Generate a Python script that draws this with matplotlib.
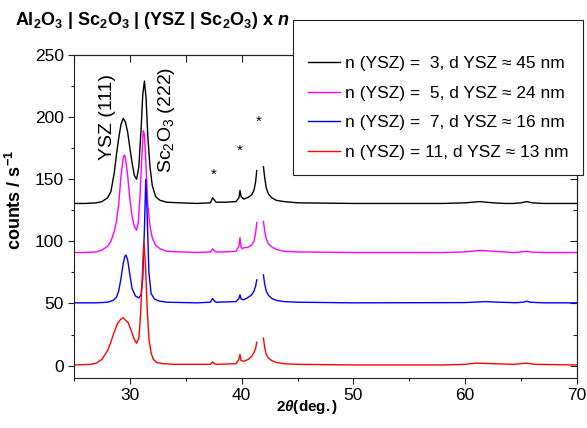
import numpy as np
import matplotlib
matplotlib.use("Agg")
import matplotlib.pyplot as plt
from matplotlib.ticker import MultipleLocator

plt.rcParams['font.family'] = ['Liberation Sans', 'DejaVu Sans']
plt.rcParams['mathtext.fontset'] = 'custom'
plt.rcParams['mathtext.rm'] = 'Liberation Sans'
plt.rcParams['mathtext.sf'] = 'Liberation Sans'
plt.rcParams['mathtext.it'] = 'Liberation Sans:italic'
plt.rcParams['mathtext.bf'] = 'Liberation Sans:bold'
plt.rcParams['mathtext.bfit'] = 'Liberation Sans:bold:italic'

nan = np.nan

# ---- data (2theta in degrees, counts/s including vertical offsets) ----
x_n3 = [25, 26, 27, 27.5, 28, 28.3, 28.6, 28.8, 29.0, 29.2, 29.4, 29.6, 29.8, 30.0, 30.2, 30.4, 30.6,
        30.8, 31.0, 31.15, 31.3, 31.45, 31.6, 31.8, 32.0, 32.3, 32.7, 33.3, 34.5, 36, 37.2, 37.4, 37.5,
        37.7, 38.5, 39.5, 39.75, 39.85, 39.95, 40.2, 40.6, 40.9, 41.1, 41.25, 41.35, 41.6, 41.95, 42.05,
        42.2, 42.4, 42.7, 43.1, 43.8, 45, 50, 55, 58, 60, 61.3, 62.5, 63.5, 64.3, 65.0, 65.5, 66.0, 67, 70]
y_n3 = [130.5, 130.5, 131, 132, 135, 140, 155, 170, 183, 194, 199, 196, 188, 175, 163, 153, 150,
        160, 190, 218, 229, 215, 185, 160, 145, 136, 133, 131.5, 131, 130.5, 131, 135, 134,
        131.5, 131.5, 132, 135, 141, 136, 134, 135.5, 137.5, 141, 148, 157, nan, 160, 152,
        143, 138, 135, 133, 132, 131, 130.5, 130.5, 130.5, 131, 132, 131, 130.5, 130.5, 131, 132, 131, 130.5, 130.5]

x_n5 = [25, 26, 27, 27.5, 28, 28.3, 28.6, 28.8, 29.0, 29.2, 29.4, 29.5, 29.6, 29.8, 30.0, 30.2, 30.4,
        30.6, 30.75, 30.9, 31.05, 31.2, 31.3, 31.45, 31.6, 31.8, 32.0, 32.3, 32.7, 33.3, 34.5, 36, 37.2,
        37.4, 37.5, 37.7, 38.5, 39.5, 39.75, 39.85, 39.95, 40.1, 40.2, 40.5, 40.9, 41.1, 41.25, 41.35, 41.6,
        41.95, 42.05, 42.2, 42.4, 42.7, 43.1, 43.8, 45, 50, 58, 60, 61.3, 62.5, 63.5, 64.3, 65, 65.5, 66, 67, 70]
y_n5 = [91, 91, 91.5, 93, 96, 100, 108, 116, 130, 152, 167, 169.5, 167, 153, 134, 120, 112,
        109, 115, 135, 165, 189, 186, 160, 130, 112, 103, 97, 94, 92, 91.5, 91, 91.5,
        94, 93, 91.5, 91.5, 92, 96, 103, 95, 94, 95, 95, 97, 100, 107, 115, nan,
        116, 109, 102, 98, 95.5, 93.5, 92, 91.5, 91, 91, 91.5, 92.7, 92, 91.5, 91, 91.5, 92, 91.3, 91, 91]

x_n7 = [25, 27, 28, 28.5, 28.8, 29.0, 29.2, 29.4, 29.55, 29.65, 29.8, 30.0, 30.2, 30.5, 30.8, 31.0,
        31.15, 31.3, 31.42, 31.55, 31.7, 31.9, 32.2, 32.6, 33.3, 36, 37.2, 37.4, 37.5, 37.7, 39.5, 39.75,
        39.85, 39.95, 40.2, 40.6, 40.9, 41.1, 41.25, 41.35, 41.6, 41.95, 42.05, 42.2, 42.4, 42.7, 43.1,
        43.8, 45, 50, 60, 61.8, 63, 64.5, 65.2, 65.5, 65.8, 67, 70]
y_n7 = [50.5, 50.5, 51, 52.5, 55, 60, 70, 82, 88, 89, 85, 73, 62, 56, 54.5, 57,
        70, 110, 150, 120, 75, 58, 53.5, 52, 51, 50.5, 51, 54, 52.5, 51, 51.5, 54,
        57, 53.5, 53, 55, 57, 60, 64, 69, nan, 73, 66, 60, 56.5, 54, 52.5,
        51.5, 51, 50.5, 50.7, 51.5, 51, 50.6, 51, 51.8, 51, 50.5, 50.5]

x_n11 = [25, 26.5, 27.0, 27.5, 28.0, 28.3, 28.6, 28.9, 29.2, 29.4, 29.6, 29.85, 30.0, 30.2, 30.4, 30.6,
         30.8, 30.95, 31.1, 31.25, 31.4, 31.55, 31.7, 31.9, 32.1, 32.4, 33, 34, 37.2, 37.4, 37.5, 37.7,
         39.5, 39.75, 39.85, 39.95, 40.2, 40.6, 40.9, 41.1, 41.25, 41.35, 41.6, 41.95, 42.05, 42.2, 42.4,
         42.7, 43.1, 43.8, 45, 50, 58, 60, 61, 62.5, 64.3, 65.5, 66.2, 70]
y_n11 = [0.5, 1, 2, 5, 12, 19, 27, 34, 37.5, 38.5, 36.5, 34.5, 31, 26, 21, 18,
         22, 40, 70, 100, 80, 45, 22, 10, 5, 2.5, 1.5, 1, 1, 3, 2, 1,
         1.5, 5, 9, 4, 3.5, 5, 7.5, 10.5, 14, 18.7, nan, 22, 15, 9, 6,
         4, 2.5, 1.5, 1, 0.5, 0.5, 1, 2, 1.5, 1, 2, 1, 0.5]

labels = ["n (YSZ) =  3, d YSZ \u2248 45 nm",
          "n (YSZ) =  5, d YSZ \u2248 24 nm",
          "n (YSZ) =  7, d YSZ \u2248 16 nm",
          "n (YSZ) = 11, d YSZ \u2248 13 nm"]
colors = ['#000000', '#ff00ff', '#0000ff', '#ff0000']

star_x = [37.48, 39.85, 41.55]
star_y = [153.5, 173, 196]

W, H = 587, 428
fig = plt.figure(figsize=(W / 100, H / 100), dpi=100)
ax = fig.add_axes([74 / W, 1 - 378 / H, (577 - 74) / W, (378 - 55) / H])

for xs, ys, c, lab in zip([x_n3, x_n5, x_n7, x_n11], [y_n3, y_n5, y_n7, y_n11], colors, labels):
    ax.plot(xs, ys, color=c, lw=1.0, label=lab)

ax.set_xlim(25, 70)
ax.set_ylim(-10, 250)
ax.xaxis.set_major_locator(MultipleLocator(10))
ax.xaxis.set_minor_locator(MultipleLocator(5))
ax.yaxis.set_major_locator(MultipleLocator(50))
ax.yaxis.set_minor_locator(MultipleLocator(25))
ax.tick_params(which='both', direction='out', labelsize=12.5, width=0.8, colors='#222222',
               labelcolor='black')
ax.tick_params(which='major', length=4.3)
ax.tick_params(which='minor', length=2.5)
ax.tick_params(axis='x', which='major', pad=3)
ax.tick_params(axis='y', which='major', pad=3)

# mirrored inward ticks on top/right
axt = ax.secondary_xaxis('top')
axt.xaxis.set_major_locator(MultipleLocator(5))
axt.tick_params(direction='in', length=5, width=0.8, labeltop=False, colors='#222222')
axr = ax.secondary_yaxis('right')
axr.yaxis.set_major_locator(MultipleLocator(50))
axr.yaxis.set_minor_locator(MultipleLocator(25))
axr.tick_params(which='both', direction='in', length=5, width=0.8, labelright=False, colors='#222222')
axr.tick_params(which='minor', length=3)
for sp in list(ax.spines.values()) + [axt.spines['top'], axr.spines['right']]:
    sp.set_linewidth(0.8)
    sp.set_color('#222222')

ax.text(28.04, 200, "YSZ (111)", rotation=90, ha='center', va='center', fontsize=14)
ax.text(33.3, 197.7, "Sc$_2$O$_3$ (222)", rotation=90, ha='center', va='center', fontsize=14)
for sx, sy in zip(star_x, star_y):
    ax.text(sx, sy, "*", ha='center', va='center', fontsize=11)

fig.text(15 / W, 1 - 25 / H,
         r"$\mathbf{Al_2O_3\ |\ Sc_2O_3\ |\ (YSZ\ |\ Sc_2O_3)\ x}\ \mathbfit{n}$",
         fontsize=13, ha='left', va='baseline')
fig.text(15 / W, 1 - 200 / H, r"$\mathbf{counts\ /\ s^{-1}}$", rotation=90,
         ha='center', va='center', fontsize=13)
fig.text(307 / W, 1 - 407 / H, r"$\mathbf{2}\mathbfit{\theta}\mathbf{(deg.)}$",
         ha='center', va='center', fontsize=11)

leg = fig.legend(loc='upper left', bbox_to_anchor=(293 / W, 1 - 20 / H),
                 bbox_transform=fig.transFigure, borderaxespad=0, fontsize=12.5,
                 title=" ", title_fontsize=6,
                 handlelength=1.85, handletextpad=0.3, labelspacing=0.83, borderpad=0.85,
                 fancybox=False, framealpha=1, edgecolor='#222222')
leg.get_frame().set_linewidth(0.8)
leg.set_zorder(10)

fig.savefig("out.png", dpi=100)
